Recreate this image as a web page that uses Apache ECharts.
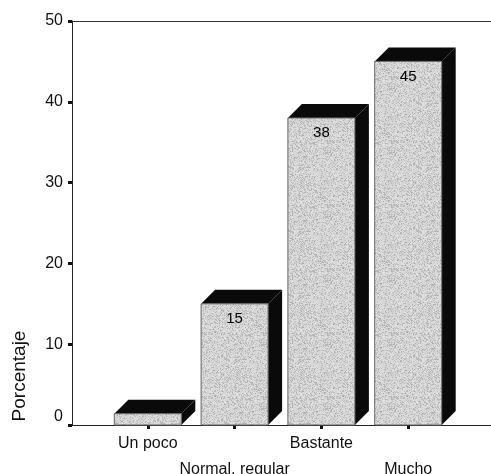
<!DOCTYPE html>
<html>
<head>
<meta charset="utf-8">
<script src="https://cdn.jsdelivr.net/npm/echarts@6/dist/echarts.min.js"></script>
<style>
  html, body { margin: 0; padding: 0; background: #fff; }
  #chart { width: 491px; height: 474px; }
</style>
</head>
<body>
<div id="chart"></div>
<script>
// Categories and percentages
var categories = ['Un poco', 'Normal, regular', 'Bastante', 'Mucho'];
var percentages = [1.4, 15, 38, 45];
var yTicks = { min: 0, max: 50, step: 10 };

// Fine grey grain for the bar fronts (deterministic hash, no randomness)
function makeStipple() {
  var size = 64;
  var c = document.createElement('canvas');
  c.width = size; c.height = size;
  var ctx = c.getContext('2d');
  var img = ctx.createImageData(size, size);
  for (var y = 0; y < size; y++) {
    for (var x = 0; x < size; x++) {
      var h = Math.sin(x * 12.9898 + y * 78.233) * 43758.5453;
      h = h - Math.floor(h);
      var g = h < 0.3 ? 172 + Math.round(h * 90) : 206 + Math.round((h - 0.3) * 30);
      var i = (y * size + x) * 4;
      img.data[i] = g; img.data[i + 1] = g; img.data[i + 2] = g; img.data[i + 3] = 255;
    }
  }
  ctx.putImageData(img, 0, 0);
  return c;
}
var stipple = makeStipple();

var FONT = '"Liberation Sans", Arial, sans-serif';
var chart = echarts.init(document.getElementById('chart'), null, { renderer: 'canvas' });

chart.setOption({
  backgroundColor: '#ffffff',
  animation: false,
  grid: [
    // frame: y axis, baseline and top rule
    { left: 72, right: 0, top: 21, bottom: 49, outerBoundsMode: 'none', containLabel: false },
    // plotting area for the bars
    { left: 104.4, right: 39.4, top: 21, bottom: 49, outerBoundsMode: 'none', containLabel: false }
  ],
  xAxis: [
    { gridIndex: 0, type: 'value', min: 0, max: 1, position: 'bottom',
      axisLine: { show: true, lineStyle: { color: '#222', width: 1 } },
      axisTick: { show: false }, axisLabel: { show: false }, splitLine: { show: false } },
    { gridIndex: 0, type: 'value', min: 0, max: 1, position: 'top',
      axisLine: { show: true, lineStyle: { color: '#333', width: 1 } },
      axisTick: { show: false }, axisLabel: { show: false }, splitLine: { show: false } },
    { gridIndex: 1, type: 'category', data: categories, position: 'bottom',
      axisLine: { show: false },
      axisTick: { show: true, alignWithLabel: true, length: 4, lineStyle: { color: '#111', width: 3 } },
      axisLabel: {
        interval: 0, margin: 6, fontFamily: FONT, fontSize: 16, color: '#111', lineHeight: 26,
        formatter: function (v, i) { return i % 2 === 1 ? '\n' + v : v; }
      },
      splitLine: { show: false } }
  ],
  yAxis: [
    { gridIndex: 0, type: 'value', min: yTicks.min, max: yTicks.max, interval: yTicks.step,
      axisLine: { show: true, lineStyle: { color: '#222', width: 1 } },
      axisTick: { show: true, length: 4, lineStyle: { color: '#111', width: 3 } },
      axisLabel: {
        margin: 9, fontFamily: FONT, fontSize: 16, color: '#111',
        formatter: function (v) { return v === 0 ? '{z|0}' : String(v); },
        rich: { z: { fontFamily: FONT, fontSize: 16, color: '#111', padding: [0, 0, 16, 0] } }
      },
      splitLine: { show: false } },
    { gridIndex: 1, type: 'value', min: yTicks.min, max: yTicks.max, show: false }
  ],
  graphic: [
    { type: 'text', x: 20, y: 376, rotation: Math.PI / 2,
      style: { text: 'Porcentaje', font: '19px ' + FONT, fill: '#111',
               align: 'center', verticalAlign: 'middle' } }
  ],
  series: [{
    type: 'custom',
    xAxisIndex: 2,
    yAxisIndex: 1,
    data: percentages.map(function (v, i) { return [i, v]; }),
    renderItem: function (params, api) {
      var idx = api.value(0), val = api.value(1);
      var top = api.coord([idx, val]);
      var base = api.coord([idx, 0]);
      var band = api.size([1, 0])[0];
      var w = band * 0.772;
      var d = 14;
      var x0 = top[0] - w / 2, x1 = x0 + w;
      var yt = top[1], yb = base[1];
      var children = [
        { type: 'polygon', shape: { points: [[x1, yt], [x1 + d, yt - d], [x1 + d, yb - d], [x1, yb]] },
          style: { fill: '#0a0a0a' } },
        { type: 'polygon', shape: { points: [[x0, yt], [x0 + d, yt - d], [x1 + d, yt - d], [x1, yt]] },
          style: { fill: '#0a0a0a' } },
        { type: 'rect', shape: { x: x0, y: yt, width: w, height: yb - yt },
          style: { fill: { image: stipple, repeat: 'repeat' }, stroke: '#666', lineWidth: 1 } }
      ];
      if (val >= 5) {
        children.push({ type: 'text',
          style: { text: String(val), x: (x0 + x1) / 2, y: yt + 15, font: '15px ' + FONT,
                   fill: '#000', align: 'center', verticalAlign: 'middle' } });
      }
      return { type: 'group', children: children };
    }
  }]
});
</script>
</body>
</html>
